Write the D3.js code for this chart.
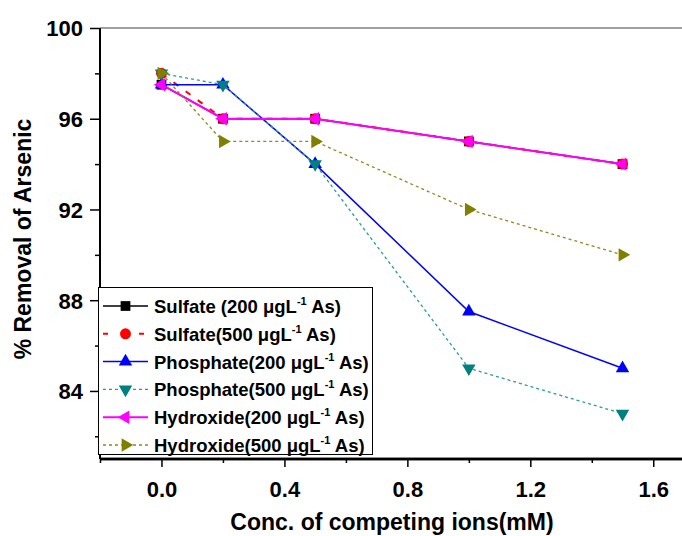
<!DOCTYPE html>
<html>
<head>
<meta charset="utf-8">
<script src="https://cdn.jsdelivr.net/npm/d3@7"></script>
<style>
  html, body { margin: 0; padding: 0; background: #fff; }
  svg { display: block; font-family: "Liberation Sans", Arial, sans-serif; font-weight: bold; }
</style>
</head>
<body>
<div id="chart"></div>
<script>
// Arsenic removal vs. competing ion concentration
const concentrations = [0, 0.2, 0.5, 1.0, 1.5];

const sulfate200 = [97.5, 96, 96, 95, 94];
const sulfate500 = [98, 96, 96, 95, 94];
const phosphate200 = [97.5, 97.5, 94, 87.5, 85];
const phosphate500 = [98, 97.5, 94, 85, 83];
const hydroxide200 = [97.5, 96, 96, 95, 94];
const hydroxide500 = [98, 95, 95, 92, 90];

const seriesLabels = [
  ["Sulfate (200 μgL", " As)"],
  ["Sulfate(500 μgL", " As)"],
  ["Phosphate(200 μgL", " As)"],
  ["Phosphate(500 μgL", " As)"],
  ["Hydroxide(200 μgL", " As)"],
  ["Hydroxide(500 μgL", " As)"],
];

const xMajorTicks = [0, 0.4, 0.8, 1.2, 1.6];
const xMinorTicks = [-0.2, 0.2, 0.6, 1.0, 1.4];
const yMajorTicks = [84, 88, 92, 96, 100];
const yMinorTicks = [82, 86, 90, 94, 98];

const xTitle = "Conc. of competing ions(mM)";
const yTitle = "% Removal of Arsenic";

// Styles per series
const styles = [
  { values: sulfate200, color: "#000000", dash: null, width: 1.5, symbol: d3.symbolSquare, size: 95, rotate: 0 },
  { values: sulfate500, color: "#ff0000", dash: "6,9", width: 2, symbol: d3.symbolCircle, size: 95, rotate: 0 },
  { values: phosphate200, color: "#0000ff", dash: null, width: 1.5, symbol: d3.symbolTriangle, size: 78, rotate: 0 },
  { values: phosphate500, color: "#008080", lineColor: "#2a9a9a", dash: "3,3", width: 1.3, symbol: d3.symbolTriangle, size: 78, rotate: 180 },
  { values: hydroxide200, color: "#ff00ff", dash: null, width: 2, symbol: d3.symbolTriangle, size: 78, rotate: -90 },
  { values: hydroxide500, color: "#808000", lineColor: "#8a8a20", dash: "3,3", width: 1.3, symbol: d3.symbolTriangle, size: 78, rotate: 90 },
];

const width = 682, height = 536;
const plotLeft = 100, plotRight = 684, plotTop = 28, plotBottom = 459;

const x = d3.scaleLinear().domain([-0.2, 1.7]).range([plotLeft, plotRight]);
const y = d3.scaleLinear().domain([81, 100]).range([plotBottom, plotTop]);

const svg = d3.select("#chart").append("svg")
  .attr("width", width)
  .attr("height", height)
  .attr("viewBox", [0, 0, width, height]);

// Top frame line (gray)
svg.append("line")
  .attr("x1", plotLeft).attr("x2", width)
  .attr("y1", plotTop).attr("y2", plotTop)
  .attr("stroke", "#808080").attr("stroke-width", 1.5);

// Y axis
const yAxis = svg.append("g").attr("transform", `translate(${plotLeft},0)`);
yAxis.call(d3.axisLeft(y).tickValues(yMajorTicks).tickSize(10).tickPadding(7).tickFormat(d3.format("d")));
yAxis.append("g").call(d3.axisLeft(y).tickValues(yMinorTicks).tickSize(5).tickFormat(""));
yAxis.selectAll(".domain").attr("stroke-width", 2).attr("d", `M0,${plotTop}V${plotBottom}`);
yAxis.selectAll(".tick line").attr("stroke-width", 1.5);
yAxis.selectAll(".tick text")
  .attr("font-size", 22).attr("font-family", "Liberation Sans, Arial, sans-serif")
  .attr("font-weight", "bold").attr("fill", "#000").attr("dy", "0.36em");

// X axis
const xAxis = svg.append("g").attr("transform", `translate(0,${plotBottom})`);
xAxis.call(d3.axisBottom(x).tickValues(xMajorTicks).tickSize(8).tickPadding(14).tickFormat(d3.format(".1f")));
xAxis.append("g").call(d3.axisBottom(x).tickValues(xMinorTicks).tickSize(4).tickFormat(""));
xAxis.selectAll(".domain").attr("stroke-width", 2.5).attr("d", `M${plotLeft},0H${width}`);
xAxis.selectAll(".tick line").attr("stroke-width", 1.5);
xAxis.selectAll(".tick text")
  .attr("font-size", 22).attr("font-family", "Liberation Sans, Arial, sans-serif")
  .attr("font-weight", "bold").attr("fill", "#000");

// Axis titles
svg.append("text")
  .attr("x", 392).attr("y", 530)
  .attr("text-anchor", "middle")
  .attr("font-size", 23)
  .text(xTitle);

svg.append("text")
  .attr("transform", `translate(31,239) rotate(-90)`)
  .attr("text-anchor", "middle")
  .attr("font-size", 23)
  .text(yTitle);

// Series
const line = d3.line().x((d, i) => x(concentrations[i])).y(d => y(d));

styles.forEach(s => {
  const g = svg.append("g");
  g.append("path")
    .datum(s.values)
    .attr("d", line)
    .attr("fill", "none")
    .attr("stroke", s.lineColor || s.color)
    .attr("stroke-width", s.width)
    .attr("stroke-dasharray", s.dash);
  g.selectAll("path.marker")
    .data(s.values)
    .join("path")
    .attr("class", "marker")
    .attr("d", d3.symbol(s.symbol, s.size))
    .attr("transform", (d, i) => `translate(${x(concentrations[i])},${y(d)}) rotate(${s.rotate})`)
    .attr("fill", s.color);
});

// Legend
const legend = svg.append("g");
legend.append("rect")
  .attr("x", 98.5).attr("y", 287.5)
  .attr("width", 274).attr("height", 167)
  .attr("fill", "#fff").attr("stroke", "#000").attr("stroke-width", 1);

const rowY = d3.scaleLinear().domain([0, 5]).range([306, 445]);

styles.forEach((s, i) => {
  const row = legend.append("g").attr("transform", `translate(0,${rowY(i)})`);
  row.append("line")
    .attr("x1", 103).attr("x2", 148)
    .attr("stroke", s.lineColor || s.color)
    .attr("stroke-width", s.width)
    .attr("stroke-dasharray", s.dash === "6,9" ? "5,31" : s.dash);
  row.append("path")
    .attr("d", d3.symbol(s.symbol, s.size))
    .attr("transform", `translate(125.5,0) rotate(${s.rotate})`)
    .attr("fill", s.color);
  const t = row.append("text")
    .attr("x", 154).attr("y", 7)
    .attr("font-size", 18.5);
  t.append("tspan").text(seriesLabels[i][0]);
  t.append("tspan").attr("font-size", 11).attr("dy", -8).text("-1");
  t.append("tspan").attr("dy", 8).text(seriesLabels[i][1]);
});
</script>
</body>
</html>
